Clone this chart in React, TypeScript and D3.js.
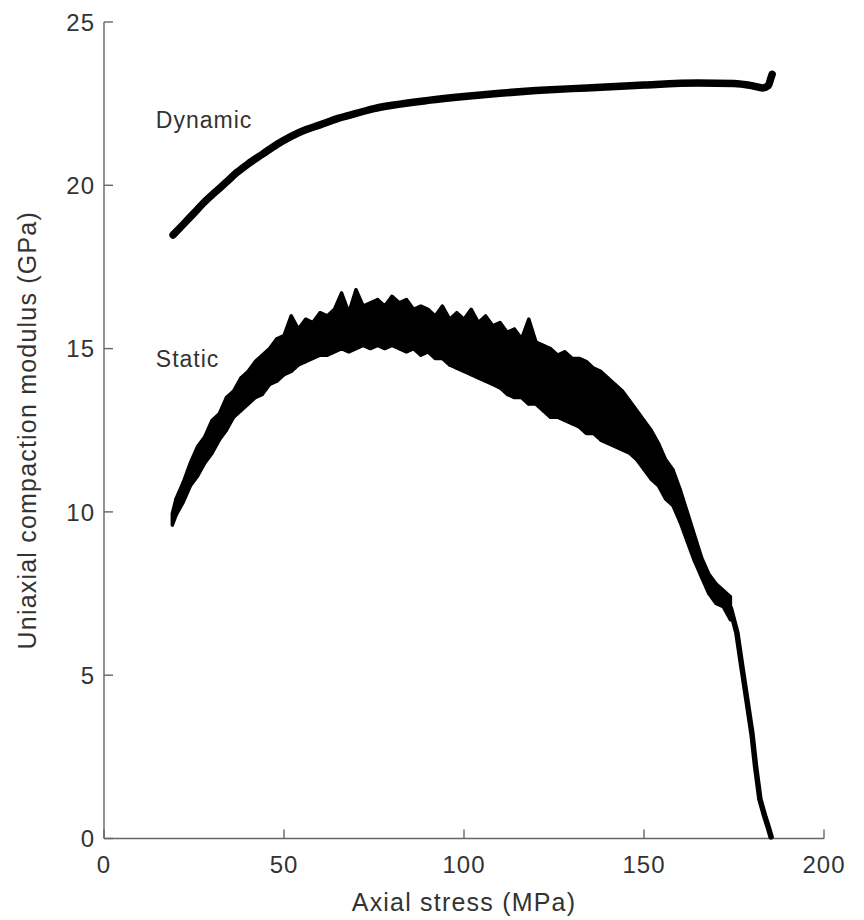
import React from "react";
import * as d3 from "d3";

// Dynamic modulus (x: axial stress MPa, y: GPa)
const dynamicX = [19.2, 22, 25, 28, 31, 34, 37, 40, 44, 48, 52, 56, 60, 65, 70, 75, 80, 90, 100, 110, 120, 130, 138, 150, 165, 175, 180, 183, 184.5, 185.3, 185.6];
const dynamicY = [18.48, 18.8, 19.15, 19.5, 19.8, 20.1, 20.4, 20.65, 20.95, 21.25, 21.5, 21.7, 21.85, 22.05, 22.2, 22.35, 22.45, 22.6, 22.72, 22.82, 22.9, 22.96, 23.0, 23.07, 23.13, 23.12, 23.05, 22.98, 23.05, 23.3, 23.4];

// Static modulus: noisy band sampled every 2 MPa (lower / upper excursion)
const staticX = [19, 20, 22, 24, 26, 28, 30, 32, 34, 36, 38, 40, 42, 44, 46, 48, 50, 52, 54, 56, 58, 60, 62, 64, 66, 68, 70, 72, 74, 76, 78, 80, 82, 84, 86, 88, 90, 92, 94, 96, 98, 100, 102, 104, 106, 108, 110, 112, 114, 116, 118, 120, 122, 124, 126, 128, 130, 132, 134, 136, 138, 140, 142, 144, 146, 148, 150, 152, 154, 156, 158, 160, 162, 164, 166, 168, 170, 172, 174];
const staticLo = [9.6, 9.9, 10.3, 10.8, 11.1, 11.5, 11.8, 12.2, 12.5, 12.9, 13.1, 13.3, 13.5, 13.6, 13.9, 14.0, 14.2, 14.3, 14.5, 14.6, 14.7, 14.8, 14.8, 14.9, 15.0, 14.9, 15.0, 15.1, 15.0, 15.1, 15.0, 15.1, 15.0, 14.9, 15.0, 14.8, 14.9, 14.7, 14.7, 14.5, 14.4, 14.3, 14.2, 14.1, 14.0, 13.9, 13.8, 13.6, 13.5, 13.5, 13.3, 13.3, 13.1, 12.9, 12.9, 12.8, 12.7, 12.6, 12.4, 12.4, 12.2, 12.1, 12.0, 11.9, 11.8, 11.6, 11.3, 11.0, 10.8, 10.4, 10.2, 9.7, 9.1, 8.5, 8.0, 7.5, 7.2, 7.1, 6.7];
const staticHi = [9.95, 10.4, 10.9, 11.5, 12.0, 12.3, 12.8, 13.0, 13.5, 13.7, 14.1, 14.3, 14.6, 14.8, 15.0, 15.3, 15.4, 16.0, 15.6, 15.9, 15.8, 16.1, 16.0, 16.2, 16.7, 16.1, 16.8, 16.3, 16.4, 16.5, 16.3, 16.6, 16.4, 16.5, 16.2, 16.3, 16.2, 16.0, 16.3, 15.9, 16.1, 15.9, 16.2, 15.8, 16.0, 15.7, 15.8, 15.5, 15.6, 15.3, 15.9, 15.2, 15.1, 15.0, 14.8, 14.9, 14.7, 14.7, 14.6, 14.4, 14.3, 14.1, 13.9, 13.7, 13.4, 13.1, 12.8, 12.5, 12.1, 11.6, 11.3, 10.7, 10.0, 9.3, 8.6, 8.1, 7.8, 7.6, 7.4];

// Static modulus: final collapse (smooth part)
const tailX = [174, 175.8, 177.2, 178.5, 180, 181, 182.2, 183.6, 184.5, 185.3];
const tailY = [7.05, 6.3, 5.25, 4.3, 3.2, 2.2, 1.2, 0.66, 0.35, 0.05];

const xTicks = [0, 50, 100, 150, 200];
const yTicks = [0, 5, 10, 15, 20, 25];

const labelNames = ["Dynamic", "Static"];
const labelX = [14.4, 14.4];
const labelY = [21.75, 14.45];

const W = 864;
const H = 920;

export default function App() {
  const x = d3.scaleLinear().domain([0, 200]).range([104, 824]);
  const y = d3.scaleLinear().domain([0, 25]).range([838.5, 22]);

  const dyn = dynamicX.map((v, i) => [v, dynamicY[i]] as [number, number]);
  const dynPath = d3
    .line<[number, number]>()
    .x((d) => x(d[0]))
    .y((d) => y(d[1]))
    .curve(d3.curveMonotoneX)(dyn) as string;

  const band = staticX.map((v, i) => ({ x: v, lo: staticLo[i], hi: staticHi[i] }));
  const bandPath = d3
    .area<{ x: number; lo: number; hi: number }>()
    .x((d) => x(d.x))
    .y0((d) => y(d.lo))
    .y1((d) => y(d.hi))(band) as string;

  const tail = tailX.map((v, i) => [v, tailY[i]] as [number, number]);
  const tailPath = d3
    .line<[number, number]>()
    .x((d) => x(d[0]))
    .y((d) => y(d[1]))(tail) as string;

  const axisColor = "#666";
  const textColor = "#333";
  const font = "'Liberation Sans', Arial, Helvetica, sans-serif";

  return (
    <svg
      width={W}
      height={H}
      style={{ position: "absolute", left: 0, top: 0, background: "#fff", fontFamily: font }}
    >
      {/* axes */}
      <line x1={x(0)} x2={x(200)} y1={y(0)} y2={y(0)} stroke={axisColor} strokeWidth={1.4} />
      <line x1={x(0)} x2={x(0)} y1={y(0)} y2={y(25)} stroke={axisColor} strokeWidth={1.4} />
      {xTicks.map((t) => (
        <g key={"xt" + t}>
          <line x1={x(t)} x2={x(t)} y1={y(0)} y2={y(0) - 9} stroke={axisColor} strokeWidth={1.4} />
          <text
            x={x(t)}
            y={873}
            textAnchor="middle"
            fontSize={24}
            letterSpacing={1}
            fill={textColor}
          >
            {t}
          </text>
        </g>
      ))}
      {yTicks.map((t) => (
        <g key={"yt" + t}>
          <line x1={x(0)} x2={x(0) + 9} y1={y(t)} y2={y(t)} stroke={axisColor} strokeWidth={1.4} />
          <text
            x={95}
            y={y(t)}
            dy="0.36em"
            textAnchor="end"
            fontSize={24}
            letterSpacing={1}
            fill={textColor}
          >
            {t}
          </text>
        </g>
      ))}
      <text
        x={(x(0) + x(200)) / 2}
        y={911}
        textAnchor="middle"
        fontSize={25}
        letterSpacing={1.2}
        fill={textColor}
      >
        Axial stress (MPa)
      </text>
      <text
        transform={`translate(36,${(y(0) + y(25)) / 2}) rotate(-90)`}
        textAnchor="middle"
        fontSize={25}
        letterSpacing={1.2}
        fill={textColor}
      >
        Uniaxial compaction modulus (GPa)
      </text>

      {/* dynamic */}
      <path d={dynPath} fill="none" stroke="#000" strokeWidth={7.5} strokeLinecap="round" strokeLinejoin="round" />

      {/* static */}
      <path d={bandPath} fill="#000" stroke="#000" strokeWidth={3.5} strokeLinejoin="round" />
      {band.map((d, i) => (
        <line
          key={"sp" + i}
          x1={x(d.x)}
          x2={x(d.x)}
          y1={y(d.lo)}
          y2={y(d.hi)}
          stroke="#000"
          strokeWidth={3}
          strokeLinecap="round"
        />
      ))}
      <path d={tailPath} fill="none" stroke="#000" strokeWidth={5.5} strokeLinecap="round" strokeLinejoin="round" />

      {/* labels */}
      {labelNames.map((n, i) => (
        <text
          key={n}
          x={x(labelX[i])}
          y={y(labelY[i])}
          fontSize={23}
          letterSpacing={1}
          fill={textColor}
        >
          {n}
        </text>
      ))}
    </svg>
  );
}
